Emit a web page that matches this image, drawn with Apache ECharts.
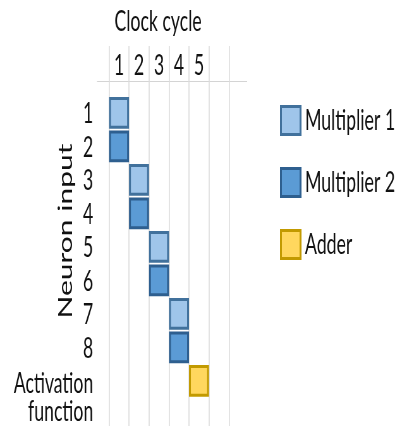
<!DOCTYPE html>
<html>
<head>
<meta charset="utf-8">
<script src="https://cdn.jsdelivr.net/npm/echarts@6/dist/echarts.min.js"></script>
<style>
  html, body { margin: 0; padding: 0; background: #fff; }
  #wrap { width: 402px; height: 426px; overflow: hidden; }
  /* the source picture is squeezed sideways, so the chart is drawn wider and scaled down */
  #chart { width: 636px; height: 426px; transform: scaleX(0.632); transform-origin: 0 0; }
</style>
</head>
<body>
<div id="wrap"><div id="chart"></div></div>
<script>
// clock cycles (columns), last one is an empty spare column
const cycles = ['1', '2', '3', '4', '5', '']
// neuron inputs (rows), top to bottom
const rowLabels = ['1', '2', '3', '4', '5', '6', '7', '8', 'Activation\nfunction']

// [cycle index, row number]
const multiplier1 = [[0, 1], [1, 3], [2, 5], [3, 7]]
const multiplier2 = [[0, 2], [1, 4], [2, 6], [3, 8]]
const adder = [[4, 9]]

const seriesDefs = [
  { name: 'Multiplier 1', data: multiplier1, color: '#9fc5ea', border: '#41719c' },
  { name: 'Multiplier 2', data: multiplier2, color: '#5b9bd5', border: '#2e5f8f' },
  { name: 'Adder', data: adder, color: '#ffd75e', border: '#c29a00' }
]

const font = 'Lato, "Open Sans", sans-serif'

const chart = echarts.init(document.getElementById('chart'))

const renderBox = (s) => (params, api) => {
  const p = api.coord([api.value(0), api.value(1)])
  const size = api.size([1, 1])
  const w = size[0] - 3
  const h = size[1] * 0.86
  return {
    type: 'rect',
    shape: { x: p[0] - w / 2, y: p[1] - h / 2, width: w, height: h },
    style: { fill: s.color, stroke: s.border, lineWidth: 3 }
  }
}

// multi-line labels sit a bit lower than the row, a spacer line pushes them down
const rowLabel = v => {
  const t = rowLabels[v - 1]
  if (!t) return ''
  if (t.indexOf('\n') < 0) return t
  return '{gap| }\n' + t.split('\n').map(l => '{two|' + l + '}').join('\n')
}

const option = {
  backgroundColor: '#fff',
  animation: false,
  title: {
    text: 'Clock cycle',
    left: 245,
    top: 3,
    textAlign: 'center',
    textStyle: { fontFamily: font, fontSize: 28, fontWeight: 'normal', color: '#111' }
  },
  legend: {
    orient: 'vertical',
    left: 438,
    top: 100,
    itemWidth: 31,
    itemHeight: 28,
    itemGap: 31,
    icon: 'rect',
    textStyle: { fontFamily: font, fontSize: 28, color: '#111', padding: [0, 0, 0, 2] },
    data: seriesDefs.map(s => ({
      name: s.name,
      itemStyle: { color: s.color, borderColor: s.border, borderWidth: 3 }
    }))
  },
  grid: {
    left: 172.5,
    right: 273.7,
    top: 46,
    bottom: 0,
    outerBoundsMode: 'none'
  },
  xAxis: {
    type: 'category',
    position: 'top',
    offset: -36,
    data: cycles,
    axisLine: { show: false },
    axisTick: { show: false },
    axisLabel: { fontFamily: font, fontSize: 28, color: '#111', margin: 2 },
    splitLine: { show: true, interval: 0, lineStyle: { color: '#dcdcdc', width: 1.6 } }
  },
  yAxis: {
    type: 'value',
    inverse: true,
    min: -1,
    max: 10.35,
    interval: 1,
    name: 'Neuron input',
    nameLocation: 'middle',
    nameGap: 53,
    nameMoveOverlap: false,
    nameTextStyle: { fontFamily: font, fontSize: 30, color: '#111', padding: [0, 0, 0, 10] },
    axisLine: { show: false },
    axisTick: { show: false },
    splitLine: { show: false },
    axisLabel: {
      fontFamily: font,
      fontSize: 28,
      lineHeight: 28,
      color: '#111',
      margin: 25,
      padding: [3, 0, 0, 0],
      formatter: rowLabel,
      rich: {
        gap: { fontSize: 10, lineHeight: 32 },
        two: { fontFamily: font, fontSize: 28, lineHeight: 28, color: '#111', align: 'right' }
      }
    }
  },
  graphic: [{
    type: 'line',
    shape: { x1: 153.5, y1: 81.5, x2: 391, y2: 81.5 },
    style: { stroke: '#d4d4d4', lineWidth: 1 }
  }],
  series: seriesDefs.map(s => ({
    name: s.name,
    type: 'custom',
    itemStyle: { color: s.color, borderColor: s.border, borderWidth: 3 },
    renderItem: renderBox(s),
    data: s.data
  }))
}

chart.setOption(option)
</script>
</body>
</html>
